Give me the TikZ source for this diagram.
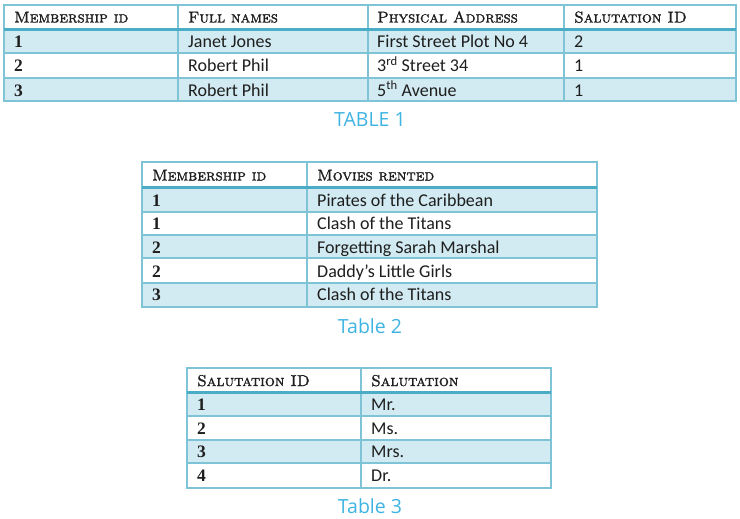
\documentclass[tikz,border=0pt]{standalone}
\usepackage{fontspec}
\newfontfamily\carlito{Carlito}
\newfontfamily\opensans{Open Sans}
\newfontfamily\numfont{Liberation Serif}
\newfontfamily\hdrfont{lmromancaps10-regular}[Extension=.otf, FakeBold=1.4]
\definecolor{gridc}{HTML}{7EC3D6}
\definecolor{hdrline}{HTML}{4BACC6}
\definecolor{shade}{HTML}{D2EAF1}
\definecolor{capblue}{HTML}{3FB4E3}
\definecolor{txt}{HTML}{1E1E1E}
\tikzset{
  hdr/.style={anchor=base west, inner sep=0pt, text=txt, font=\hdrfont\fontsize{15.7}{18}\selectfont},
  num/.style={anchor=base west, inner sep=0pt, text=txt, font=\numfont\fontsize{17.5}{18}\selectfont\bfseries},
  cell/.style={anchor=base west, inner sep=0pt, text=txt, font=\carlito\fontsize{18}{20}\selectfont},
  captxt/.style={anchor=base, inner sep=0pt, text=capblue, font=\opensans\fontsize{19.5}{22}\selectfont},
  gridline/.style={draw=gridc, line width=1.3pt},
  hdrrule/.style={draw=hdrline, line width=3pt},
  shaded/.style={fill=shade}
}
\begin{document}
\begin{tikzpicture}[x=1pt,y=-1pt]
\useasboundingbox[fill=white] (0,0) rectangle (740,519);
% ---------- Table 1 ----------
\fill[shaded] (4,29) rectangle (736,53);
\fill[shaded] (4,78) rectangle (736,101);
\draw[gridline] (4,5) rectangle (736,101);
\foreach \yy in {53,78} \draw[gridline] (4,\yy) -- (736,\yy);
\foreach \xx in {178,368,564} \draw[gridline] (\xx,5) -- (\xx,101);
\draw[hdrrule] (4,29.5) -- (736,29.5);
\node[hdr] (t1h1) at (14,22.5) {Membership id};
\node[hdr] (t1h2) at (188,22.5) {Full names};
\node[hdr] (t1h3) at (377,22.5) {Physical Address};
\node[hdr] (t1h4) at (574,22.5) {Salutation ID};
\node[num] (t1a1) at (14,47.5) {1};
\node[cell] (t1a2) at (188,47.5) {Janet Jones};
\node[cell] (t1a3) at (377,47.5) {First Street Plot No 4};
\node[cell] (t1a4) at (574,47.5) {2};
\node[num] (t1b1) at (14,72) {2};
\node[cell] (t1b2) at (188,72) {Robert Phil};
\node[cell] (t1b3) at (377,72) {3\textsuperscript{rd} Street 34};
\node[cell] (t1b4) at (574,72) {1};
\node[num] (t1c1) at (14,96) {3};
\node[cell] (t1c2) at (188,96) {Robert Phil};
\node[cell] (t1c3) at (377,96) {5\textsuperscript{th} Avenue};
\node[cell] (t1c4) at (574,96) {1};
\node[captxt] (cap1) at (370,127) {TABLE 1};
% ---------- Table 2 ----------
\fill[shaded] (142,187) rectangle (597,212);
\fill[shaded] (142,235) rectangle (597,258);
\fill[shaded] (142,283) rectangle (597,307);
\draw[gridline] (142,162) rectangle (597,307);
\foreach \yy in {212,235,258,283} \draw[gridline] (142,\yy) -- (597,\yy);
\draw[gridline] (307,162) -- (307,307);
\draw[hdrrule] (142,187.5) -- (597,187.5);
\node[hdr] (t2h1) at (152,180.5) {Membership id};
\node[hdr] (t2h2) at (317,180.5) {Movies rented};
\node[num] (t2a1) at (152,206) {1};
\node[cell] (t2a2) at (317,206) {Pirates of the Caribbean};
\node[num] (t2b1) at (152,229.5) {1};
\node[cell] (t2b2) at (317,229.5) {Clash of the Titans};
\node[num] (t2c1) at (152,253) {2};
\node[cell] (t2c2) at (317,253) {Forgetting Sarah Marshal};
\node[num] (t2d1) at (152,277) {2};
\node[cell] (t2d2) at (317,277) {Daddy’s Little Girls};
\node[num] (t2e1) at (152,300.5) {3};
\node[cell] (t2e2) at (317,300.5) {Clash of the Titans};
\node[captxt] (cap2) at (370,333) {Table 2};
% ---------- Table 3 ----------
\fill[shaded] (187,392) rectangle (551,416);
\fill[shaded] (187,440) rectangle (551,463);
\draw[gridline] (187,368) rectangle (551,488);
\foreach \yy in {416,440,463} \draw[gridline] (187,\yy) -- (551,\yy);
\draw[gridline] (361,368) -- (361,488);
\draw[hdrrule] (187,392.5) -- (551,392.5);
\node[hdr] (t3h1) at (197,386) {Salutation ID};
\node[hdr] (t3h2) at (371,386) {Salutation};
\node[num] (t3a1) at (197,410.5) {1};
\node[cell] (t3a2) at (371,410.5) {Mr.};
\node[num] (t3b1) at (197,434) {2};
\node[cell] (t3b2) at (371,434) {Ms.};
\node[num] (t3c1) at (197,457.5) {3};
\node[cell] (t3c2) at (371,457.5) {Mrs.};
\node[num] (t3d1) at (197,481.5) {4};
\node[cell] (t3d2) at (371,481.5) {Dr.};
\node[captxt] (cap3) at (370,513) {Table 3};
\end{tikzpicture}
\end{document}
